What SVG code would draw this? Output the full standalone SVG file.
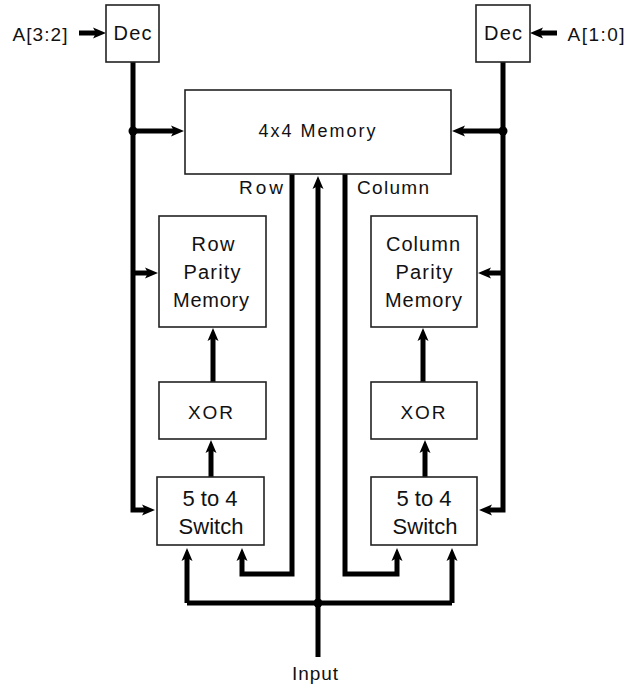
<svg xmlns="http://www.w3.org/2000/svg" width="628" height="685" viewBox="0 0 628 685">
<style>
.box{fill:#fff;stroke:#222;stroke-width:1.6}
.t{font-family:"Liberation Sans",Arial,sans-serif;fill:#111;text-anchor:middle}
.bus{fill:none;stroke:#000;stroke-width:5}
.arr{marker-end:url(#ah)}
</style>
<defs>
<marker id="ah" markerUnits="userSpaceOnUse" viewBox="-5 -6 15 12" markerWidth="15" markerHeight="12" refX="0" refY="0" orient="auto">
<path d="M-4,-5.5 L9,0 L-4,5.5 L-1,0 Z" fill="#000"/>
</marker>
</defs>
<rect width="628" height="685" fill="#fff"/>
<g id="connectors">
<path class="bus arr" d="M79,33 H97"/>
<path class="bus arr" d="M557,33 H539"/>
<path class="bus arr" d="M133,62 V510 H146"/>
<path class="bus arr" d="M133,131 H175"/>
<path class="bus arr" d="M133,273 H149"/>
<path class="bus arr" d="M503,62 V510 H488"/>
<path class="bus arr" d="M503,131 H461"/>
<path class="bus arr" d="M503,273 H487"/>
<path class="bus arr" d="M292,174 V574 H242 V557"/>
<path class="bus arr" d="M345,174 V574 H397 V557"/>
<path class="bus arr" d="M318,657 V185"/>
<path class="bus" d="M187,603 H452"/>
<path class="bus arr" d="M187,603 V557"/>
<path class="bus arr" d="M452,603 V557"/>
<path class="bus arr" d="M211,477 V449"/>
<path class="bus arr" d="M425,477 V449"/>
<path class="bus arr" d="M213,382 V337"/>
<path class="bus arr" d="M423,382 V337"/>
<circle cx="133" cy="131" r="4.5" fill="#000"/>
<circle cx="503" cy="131" r="4.5" fill="#000"/>
<circle cx="318" cy="603" r="4.5" fill="#000"/>
</g>
<g id="label-a32"><text class="t" x="40" y="41" font-size="19" textLength="55" lengthAdjust="spacing">A[3:2]</text></g>
<g id="label-a10"><text class="t" x="596" y="41" font-size="19" textLength="57" lengthAdjust="spacing">A[1:0]</text></g>
<g id="dec-left"><rect class="box" x="106" y="5" width="53" height="57"/><text class="t" x="132.5" y="40" font-size="20" textLength="38" lengthAdjust="spacing">Dec</text></g>
<g id="dec-right"><rect class="box" x="476" y="5" width="54" height="57"/><text class="t" x="503" y="40" font-size="20" textLength="38" lengthAdjust="spacing">Dec</text></g>
<g id="memory"><rect class="box" x="185" y="90" width="266" height="84"/><text class="t" x="317" y="137" font-size="18" textLength="117" lengthAdjust="spacing">4x4 Memory</text></g>
<g id="label-row"><text class="t" x="261" y="194" font-size="19" textLength="44" lengthAdjust="spacing">Row</text></g>
<g id="label-column"><text class="t" x="393" y="194" font-size="19" textLength="72" lengthAdjust="spacing">Column</text></g>
<g id="row-parity"><rect class="box" x="159" y="216" width="107" height="111"/>
<text class="t" x="213" y="251" font-size="20" textLength="43" lengthAdjust="spacing">Row</text>
<text class="t" x="212" y="279" font-size="20" textLength="57" lengthAdjust="spacing">Parity</text>
<text class="t" x="211" y="307" font-size="20" textLength="76" lengthAdjust="spacing">Memory</text></g>
<g id="column-parity"><rect class="box" x="371" y="216" width="106" height="111"/>
<text class="t" x="423" y="251" font-size="20" textLength="74" lengthAdjust="spacing">Column</text>
<text class="t" x="424" y="279" font-size="20" textLength="57" lengthAdjust="spacing">Parity</text>
<text class="t" x="423.5" y="307" font-size="20" textLength="77" lengthAdjust="spacing">Memory</text></g>
<g id="xor-left"><rect class="box" x="159" y="382" width="107" height="57"/><text class="t" x="210.5" y="419" font-size="19" textLength="45" lengthAdjust="spacing">XOR</text></g>
<g id="xor-right"><rect class="box" x="371" y="382" width="106" height="57"/><text class="t" x="423" y="419" font-size="19" textLength="45" lengthAdjust="spacing">XOR</text></g>
<g id="switch-left"><rect class="box" x="157" y="477" width="107" height="68"/>
<text class="t" x="210" y="506" font-size="22">5 to 4</text>
<text class="t" x="211" y="534" font-size="22">Switch</text></g>
<g id="switch-right"><rect class="box" x="371" y="477" width="106" height="68"/>
<text class="t" x="424" y="506" font-size="22">5 to 4</text>
<text class="t" x="425" y="534" font-size="22">Switch</text></g>
<g id="label-input"><text class="t" x="315" y="680" font-size="19" textLength="46" lengthAdjust="spacing">Input</text></g>
</svg>
